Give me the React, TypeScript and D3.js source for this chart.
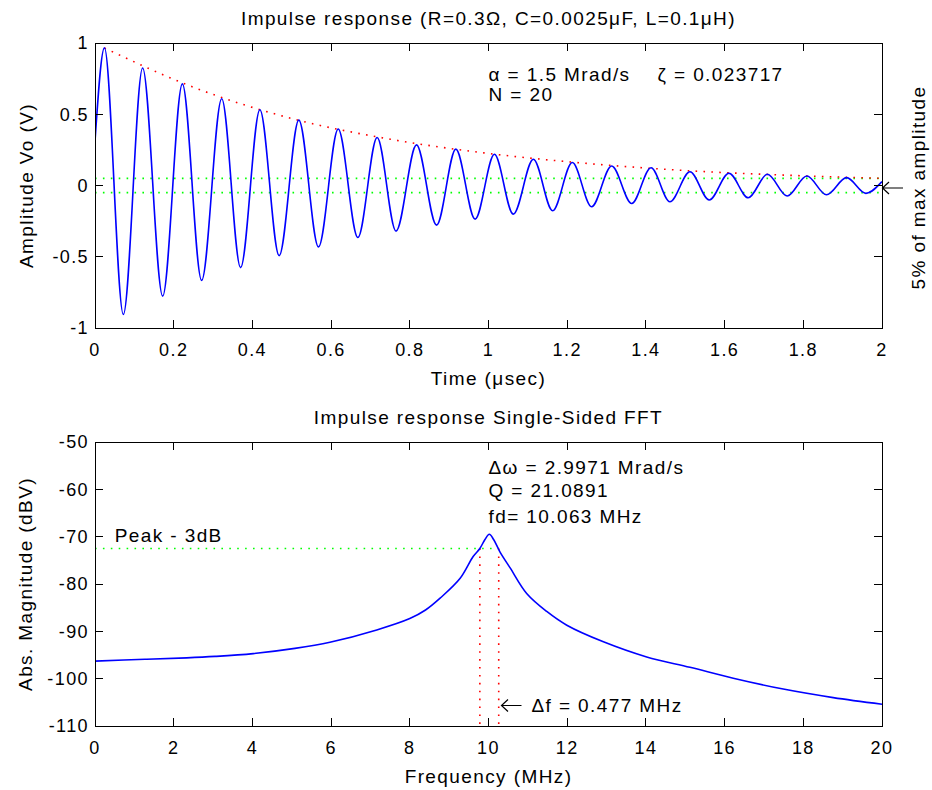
import * as d3 from "d3";
import { useEffect, useRef } from "react";

// top plot: peaks / troughs of the impulse response
const timeUs = [
  0, 0.024, 0.072, 0.121, 0.172, 0.222, 0.271, 0.322, 0.37, 0.419, 0.468, 0.518, 0.568, 0.618,
  0.668, 0.717, 0.765, 0.817, 0.868, 0.917, 0.966, 1.015, 1.063, 1.114, 1.163, 1.213, 1.262,
  1.313, 1.364, 1.413, 1.461, 1.512, 1.561, 1.611, 1.66, 1.709, 1.759, 1.809, 1.859, 1.91,
  1.959, 2.0,
];
const amplitudeV = [
  0.31, 0.966, -0.905, 0.825, -0.776, 0.713, -0.666, 0.609, -0.576, 0.532, -0.492, 0.459,
  -0.431, 0.396, -0.365, 0.337, -0.32, 0.285, -0.278, 0.255, -0.236, 0.219, -0.201, 0.184,
  -0.177, 0.161, -0.149, 0.137, -0.126, 0.125, -0.114, 0.097, -0.102, 0.086, -0.086, 0.079,
  -0.074, 0.067, -0.065, 0.055, -0.055, 0.027,
];
// red dotted decay envelope
const envelopeTimeUs = [0.024, 0.25, 0.5, 0.75, 1.0, 1.25, 1.5, 1.75, 2.0];
const envelopeV = [0.965, 0.69, 0.47, 0.325, 0.225, 0.155, 0.105, 0.073, 0.05];
// green dotted 5% band
const bandV = [0.05, -0.05];
const timeTicks = [0, 0.2, 0.4, 0.6, 0.8, 1, 1.2, 1.4, 1.6, 1.8, 2];
const ampTicks = [-1, -0.5, 0, 0.5, 1];

// bottom plot: single sided FFT magnitude
const freqMHz = [
  0, 1.27, 2.33, 3.05, 4.02, 5.08, 5.97, 7.16, 8.0, 8.4, 8.77, 9.28, 9.61, 9.78, 9.91, 10.02,
  10.13, 10.29, 10.55, 10.97, 11.48, 11.99, 12.92, 14.02, 15.12, 16.22, 17.49, 18.76, 20.0,
];
const magnitudeDbv = [
  -96.3, -95.9, -95.6, -95.3, -94.7, -93.6, -92.3, -89.7, -87.3, -85.5, -83.0, -78.8, -74.2,
  -72.5, -70.6, -69.5, -70.6, -73.2, -76.6, -82.0, -85.8, -88.7, -92.2, -95.4, -97.6, -99.9,
  -102.2, -104.0, -105.4,
];
const halfPowerDbv = -72.5;
const halfPowerFreqs = [9.78, 10.26];
const freqTicks = [0, 2, 4, 6, 8, 10, 12, 14, 16, 18, 20];
const dbTicks = [-110, -100, -90, -80, -70, -60, -50];

const W = 932;
const H = 790;
const FONT = "'Liberation Sans', Arial, Helvetica, sans-serif";

function txt(g, s, x, y, size = 19, anchor = "start") {
  return g
    .append("text")
    .attr("x", x)
    .attr("y", y)
    .attr("font-family", FONT)
    .attr("font-size", size)
    .attr("letter-spacing", 1.4)
    .attr("text-anchor", anchor)
    .attr("fill", "#000")
    .text(s);
}

// box with inward ticks on all four sides, like matlab
function frame(g, x, y, xTicks, yTicks) {
  const [x0, x1] = x.range();
  const [yb, yt] = y.range();
  const tl = 8;
  const ax = g.append("g").attr("stroke", "#000").attr("stroke-width", 1).attr("shape-rendering", "crispEdges");
  xTicks.forEach((t) => {
    const px = x(t);
    ax.append("line").attr("x1", px).attr("x2", px).attr("y1", yb).attr("y2", yb - tl);
    ax.append("line").attr("x1", px).attr("x2", px).attr("y1", yt).attr("y2", yt + tl);
    txt(g, String(t), px, yb + 28, 18, "middle");
  });
  yTicks.forEach((t) => {
    const py = y(t);
    ax.append("line").attr("x1", x0).attr("x2", x0 + tl).attr("y1", py).attr("y2", py);
    ax.append("line").attr("x1", x1).attr("x2", x1 - tl).attr("y1", py).attr("y2", py);
    txt(g, String(t), x0 - 6, py, 18, "end").attr("dy", "0.36em");
  });
  ax.append("rect")
    .attr("x", x0)
    .attr("y", yt)
    .attr("width", x1 - x0)
    .attr("height", yb - yt)
    .attr("fill", "none");
}

function dotted(g, d, color) {
  return g
    .append("path")
    .attr("d", d)
    .attr("fill", "none")
    .attr("stroke", color)
    .attr("stroke-width", 1.6)
    .attr("stroke-dasharray", "1.6 6.3");
}

function leftArrow(g, xTip, y, len) {
  g.append("path")
    .attr("d", `M${xTip + len},${y}H${xTip}M${xTip + 6.5},${y - 6}L${xTip},${y}L${xTip + 6.5},${y + 6}`)
    .attr("fill", "none")
    .attr("stroke", "#000")
    .attr("stroke-width", 1.2);
}

export default function App() {
  const svgRef = useRef(null);

  useEffect(() => {
    const svg = d3.select(svgRef.current);
    svg.selectAll("*").remove();

    const left = 95;
    const right = 882;

    // ---------- top: impulse response ----------
    const x1 = d3.scaleLinear().domain([0, 2]).range([left, right]);
    const y1 = d3.scaleLinear().domain([-1, 1]).range([328, 43]);
    const top = svg.append("g");

    const clip1 = svg.append("clipPath").attr("id", "clip1");
    clip1.append("rect").attr("x", left).attr("y", 43).attr("width", right - left).attr("height", 285);

    const marks1 = top.append("g").attr("clip-path", "url(#clip1)");
    const bandLine = d3.line().x((d) => x1(d[0])).y((d) => y1(d[1]));
    bandV.forEach((v) => {
      dotted(marks1, bandLine([[0, v], [2, v]]), "#00ff00");
    });
    const envLine = d3
      .line()
      .x((d, i) => x1(envelopeTimeUs[i]))
      .y((d) => y1(d))
      .curve(d3.curveMonotoneX);
    dotted(marks1, envLine(envelopeV), "#ff0000");

    const respLine = d3
      .line()
      .x((d, i) => x1(timeUs[i]))
      .y((d) => y1(d))
      .curve(d3.curveMonotoneX);
    marks1
      .append("path")
      .attr("d", respLine(amplitudeV))
      .attr("fill", "none")
      .attr("stroke", "#0000ff")
      .attr("stroke-width", 1.6);

    frame(top, x1, y1, timeTicks, ampTicks);

    txt(top, "Impulse response (R=0.3\u03A9, C=0.0025\u03BCF, L=0.1\u03BCH)", (left + right) / 2, 25, 19, "middle");
    txt(top, "Time (\u03BCsec)", (left + right) / 2, 385, 19, "middle");
    txt(top, "Amplitude Vo (V)", 0, 0, 19, "middle").attr("transform", `translate(33,${y1(0)}) rotate(-90)`);
    txt(top, "5% of max amplitude", 0, 0, 19, "middle").attr("transform", `translate(925,${y1(0) + 2}) rotate(-90)`);

    txt(top, "\u03B1 = 1.5 Mrad/s", x1(1), 81, 19);
    txt(top, "\u03B6 = 0.023717", x1(1) + 169, 81, 19);
    txt(top, "N = 20", x1(1), 101, 19);

    // arrow pointing at the 5% level
    leftArrow(top, right + 0.5, y1(0) + 2.5, 20.5);

    // ---------- bottom: FFT ----------
    const x2 = d3.scaleLinear().domain([0, 20]).range([left, right]);
    const y2 = d3.scaleLinear().domain([-110, -50]).range([726, 442]);
    const bot = svg.append("g");

    const marks2 = bot.append("g");
    const hLine = d3.line().x((d) => x2(d[0])).y((d) => y2(d[1]));
    dotted(marks2, hLine([[0, halfPowerDbv], [halfPowerFreqs[1], halfPowerDbv]]), "#00ff00");
    halfPowerFreqs.forEach((f) => {
      dotted(marks2, hLine([[f, halfPowerDbv], [f, -110]]), "#ff0000");
    });

    const fftLine = d3
      .line()
      .x((d, i) => x2(freqMHz[i]))
      .y((d) => y2(d))
      .curve(d3.curveCatmullRom.alpha(0.5));
    marks2
      .append("path")
      .attr("d", fftLine(magnitudeDbv))
      .attr("fill", "none")
      .attr("stroke", "#0000ff")
      .attr("stroke-width", 1.6);

    frame(bot, x2, y2, freqTicks, dbTicks);

    txt(bot, "Impulse response Single-Sided FFT", (left + right) / 2, 424, 19, "middle");
    txt(bot, "Frequency (MHz)", (left + right) / 2, 783, 19, "middle");
    txt(bot, "Abs. Magnitude (dBV)", 0, 0, 19, "middle").attr("transform", `translate(32,${(442 + 726) / 2}) rotate(-90)`);

    txt(bot, "\u0394\u03C9 = 2.9971 Mrad/s", x2(10), 474, 19);
    txt(bot, "Q = 21.0891", x2(10), 497, 19);
    txt(bot, "fd= 10.063 MHz", x2(10), 523, 19);
    txt(bot, "Peak - 3dB", x2(0.5), 542, 19);
    leftArrow(bot, x2(10.33), 705.5, 20);
    txt(bot, "\u0394f = 0.477 MHz", x2(10.33) + 30, 712, 19);
  }, []);

  return (
    <svg
      ref={svgRef}
      width={W}
      height={H}
      style={{ position: "absolute", left: 0, top: 0, background: "#fff" }}
    />
  );
}
